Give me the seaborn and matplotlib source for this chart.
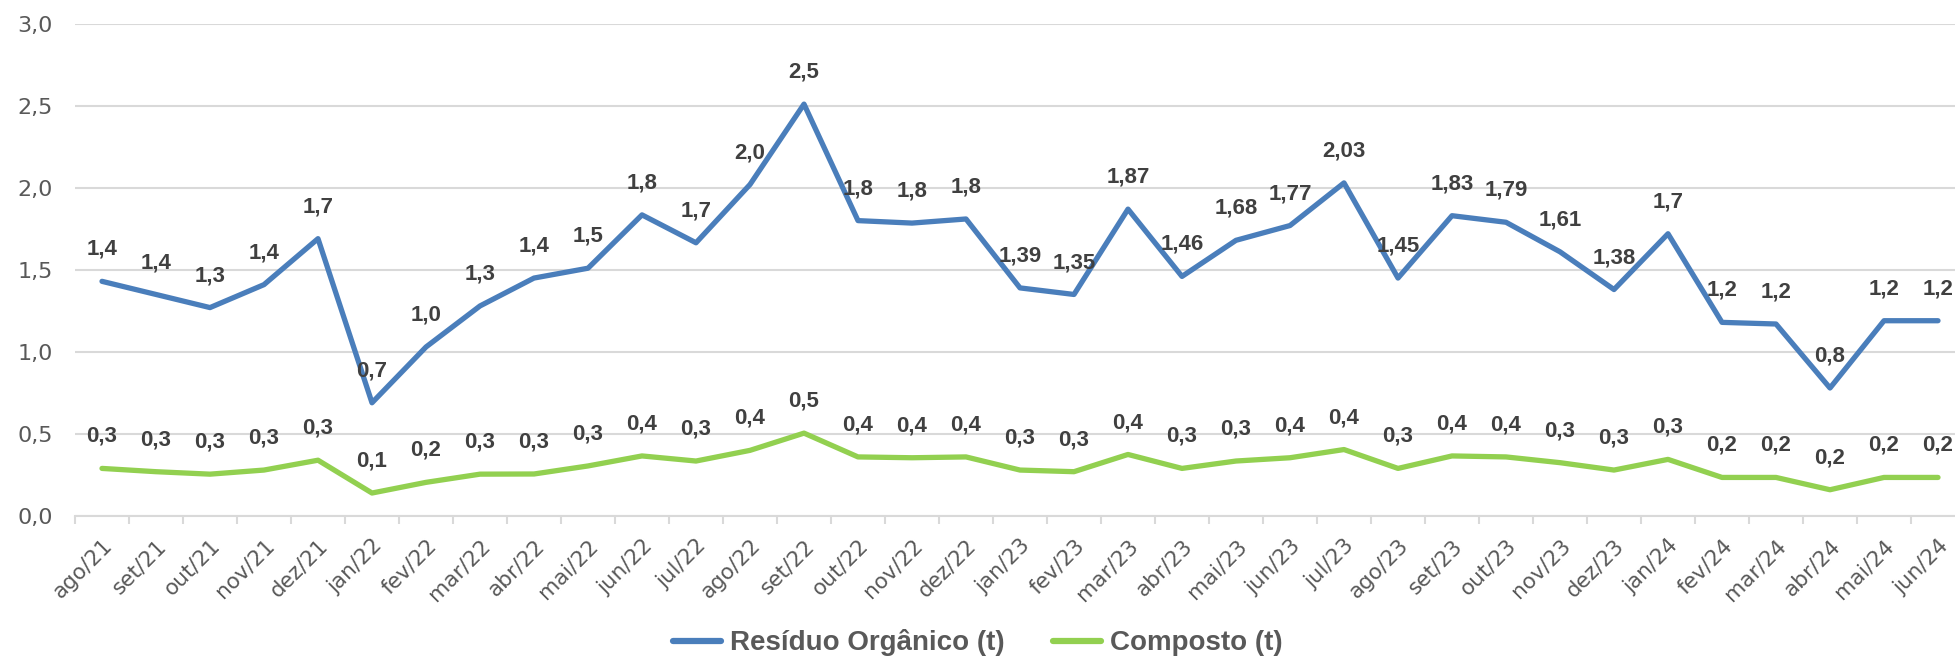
import numpy as np
import pandas as pd
import matplotlib
matplotlib.use("Agg")
import matplotlib.pyplot as plt
import seaborn as sns
from matplotlib.lines import Line2D
from matplotlib.ticker import FixedLocator

months = ["ago/21", "set/21", "out/21", "nov/21", "dez/21",
          "jan/22", "fev/22", "mar/22", "abr/22", "mai/22", "jun/22", "jul/22",
          "ago/22", "set/22", "out/22", "nov/22", "dez/22",
          "jan/23", "fev/23", "mar/23", "abr/23", "mai/23", "jun/23", "jul/23",
          "ago/23", "set/23", "out/23", "nov/23", "dez/23",
          "jan/24", "fev/24", "mar/24", "abr/24", "mai/24", "jun/24"]

residuo = [1.43, 1.35, 1.27, 1.41, 1.69,
           0.69, 1.03, 1.28, 1.45, 1.51, 1.835, 1.665,
           2.02, 2.51, 1.80, 1.785, 1.81,
           1.39, 1.35, 1.87, 1.46, 1.68, 1.77, 2.03,
           1.45, 1.83, 1.79, 1.61, 1.38,
           1.72, 1.18, 1.17, 0.78, 1.19, 1.19]
residuo_labels = ["1,4", "1,4", "1,3", "1,4", "1,7",
                  "0,7", "1,0", "1,3", "1,4", "1,5", "1,8", "1,7",
                  "2,0", "2,5", "1,8", "1,8", "1,8",
                  "1,39", "1,35", "1,87", "1,46", "1,68", "1,77", "2,03",
                  "1,45", "1,83", "1,79", "1,61", "1,38",
                  "1,7", "1,2", "1,2", "0,8", "1,2", "1,2"]

composto = [0.29, 0.27, 0.255, 0.28, 0.34,
            0.14, 0.205, 0.255, 0.256, 0.305, 0.366, 0.335,
            0.40, 0.505, 0.36, 0.355, 0.36,
            0.28, 0.27, 0.375, 0.29, 0.335, 0.355, 0.405,
            0.29, 0.366, 0.36, 0.325, 0.28,
            0.345, 0.235, 0.235, 0.16, 0.235, 0.235]
composto_labels = ["0,3", "0,3", "0,3", "0,3", "0,3",
                   "0,1", "0,2", "0,3", "0,3", "0,3", "0,4", "0,3",
                   "0,4", "0,5", "0,4", "0,4", "0,4",
                   "0,3", "0,3", "0,4", "0,3", "0,3", "0,4", "0,4",
                   "0,3", "0,4", "0,4", "0,3", "0,3",
                   "0,3", "0,2", "0,2", "0,2", "0,2", "0,2"]

series_names = ["Resíduo Orgânico (t)", "Composto (t)"]
colors = ["#4A7EBB", "#92D050"]
yticks = [0.0, 0.5, 1.0, 1.5, 2.0, 2.5, 3.0]
ytick_labels = ["0,0", "0,5", "1,0", "1,5", "2,0", "2,5", "3,0"]

sns.set_theme(style="white")
plt.rcParams["font.family"] = ["DejaVu Sans"]

W, H = 1955, 658
fig = plt.figure(figsize=(W / 100, H / 100), dpi=100)
ax_left, ax_right = 75, 1965
ax_top, ax_bottom = 23.7, 516
ax = fig.add_axes([ax_left / W, 1 - ax_bottom / H,
                   (ax_right - ax_left) / W, (ax_bottom - ax_top) / H])

x = np.arange(len(months))
df = pd.DataFrame({
    "x": np.concatenate([x, x]),
    "value": residuo + composto,
    "serie": [series_names[0]] * len(x) + [series_names[1]] * len(x),
})

sns.lineplot(data=df, x="x", y="value", hue="serie", palette=colors,
             linewidth=3.8, legend=False, ax=ax, sort=False,
             solid_capstyle="round", solid_joinstyle="round")

label_font = ["Liberation Sans", "DejaVu Sans"]
label_color = "#404040"
for vals, labs in ((residuo, residuo_labels), (composto, composto_labels)):
    for xi, v, t in zip(x, vals, labs):
        ax.annotate(t, (xi, v), xytext=(0, 23), textcoords="offset points",
                    ha="center", va="center", fontsize=16, fontweight="bold",
                    color=label_color, family=label_font)

ax.set_xlim(-0.5, len(months) - 0.5)
ax.set_ylim(0, 3.0)
ax.set_yticks(yticks)
ax.set_yticklabels(ytick_labels, fontsize=16, color="#595959")
ax.set_xticks(x)
ax.set_xticklabels(months, rotation=45, ha="right", rotation_mode="anchor",
                   fontsize=15.5, color="#595959")
ax.xaxis.set_minor_locator(FixedLocator(np.arange(-0.5, len(months), 1.0)))

grid_color = "#D9D9D9"
ax.grid(axis="y", color=grid_color, linewidth=1.5)
ax.set_axisbelow(True)
for s in ["left", "right", "top"]:
    ax.spines[s].set_visible(False)
ax.spines["bottom"].set_color(grid_color)
ax.spines["bottom"].set_linewidth(1.5)

tick_color = "#595959"
ax.tick_params(axis="y", length=0, pad=16)
ax.tick_params(axis="x", which="major", length=0, pad=14)
ax.tick_params(axis="x", which="minor", length=5.5, width=1.5, color=grid_color,
               bottom=True)
ax.set_xlabel("")
ax.set_ylabel("")

handles = [Line2D([0], [0], color=c, linewidth=4.5, solid_capstyle="round")
           for c in colors]
leg = fig.legend(handles, series_names, loc="center",
                 bbox_to_anchor=(0.5, 1 - 643 / H), ncol=2, frameon=False,
                 handlelength=1.75, handletextpad=0.3, columnspacing=1.75,
                 prop={"family": label_font, "weight": "bold", "size": 20})
for t in leg.get_texts():
    t.set_color(tick_color)

fig.savefig("out.png", dpi=100)
